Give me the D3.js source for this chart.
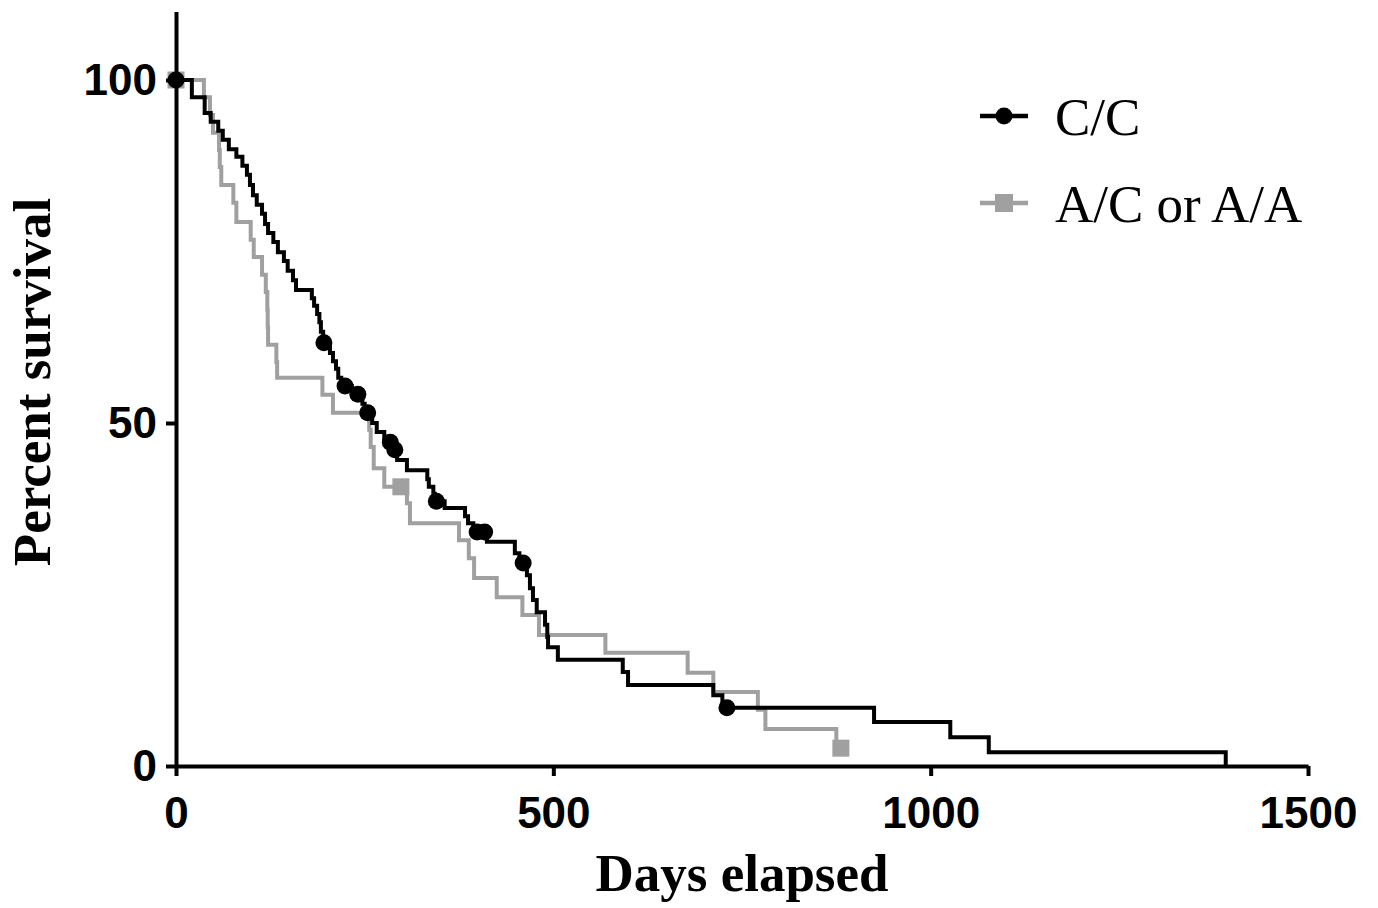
<!DOCTYPE html>
<html>
<head>
<meta charset="utf-8">
<script src="https://cdn.jsdelivr.net/npm/d3@7"></script>
<style>
  body { margin: 0; background: #fff; }
</style>
</head>
<body>
<div id="chart"></div>
<script>

// C/C group: day of each drop and survival (%) after it
const ccDays = [21, 38, 46, 56, 62, 70, 80, 88, 94, 98,
                102, 107, 114, 118, 122, 129, 135, 143, 148, 155,
                159, 180, 183, 187, 190, 192, 195, 204, 208, 212,
                215, 219, 233, 247, 250, 260, 266, 276, 288, 293,
                306, 333, 335, 341, 343, 356, 383, 387, 394, 412,
                449, 455, 465, 469, 473, 478, 489, 492, 493, 506,
                592, 599, 712, 724, 925, 1026, 1077, 1391];
const ccSurv = [97.5, 95.2, 93.9, 92.6, 91.3, 89.9, 88.8, 87.5, 86.2, 84.7,
                83.2, 81.8, 80.5, 79.0, 77.7, 76.4, 74.9, 73.6, 72.2, 70.8,
                69.4, 68.2, 67.1, 65.9, 64.7, 63.3, 61.7, 60.2, 59.0, 57.9,
                56.6, 55.4, 54.2, 52.8, 51.5, 50.0, 48.7, 47.2, 46.1, 44.6,
                43.1, 41.8, 40.7, 39.7, 38.6, 37.6, 36.4, 35.4, 34.1, 32.7,
                31.0, 29.6, 27.8, 25.9, 24.2, 22.4, 20.6, 18.8, 17.3, 15.5,
                13.7, 11.8, 10.3, 8.5, 6.4, 4.2, 2.0, 0];
const ccCensored = [0, 196, 224, 241, 254, 284, 290, 345, 399, 409, 460, 730];

// A/C or A/A group
const acDays = [37, 45, 49, 57, 58, 60, 76, 80, 99, 103,
                114, 119, 121, 121.5, 122, 133, 134, 194, 208, 256,
                258, 262, 276, 306, 310, 375, 388, 395, 425, 459,
                481, 569, 678, 712, 771, 781, 875];
const acSurv = [97.5, 94.9, 92.3, 89.8, 87.3, 84.7, 82.1, 79.3, 76.7, 74.2,
                71.6, 69.1, 66.5, 64.0, 61.4, 58.9, 56.6, 54.1, 51.5, 49.0,
                46.5, 43.4, 40.7, 38.3, 35.4, 32.9, 30.3, 27.4, 24.6, 22.0,
                19.1, 16.5, 13.6, 10.8, 8.2, 5.4, 2.6];
const acCensored = [0, 298, 881];

const xTicks = [0, 500, 1000, 1500];
const yTicks = [0, 50, 100];
const seriesNames = ['C/C', 'A/C or A/A'];

let dim = {'width': 1378, 'height': 908};

let svg = d3.select('#chart').append('svg')
    .attr('width', dim.width)
    .attr('height', dim.height);

let scaleX = d3.scaleLinear()
    .domain([0, 1500])
    .range([176, 1308]);

let scaleY = d3.scaleLinear()
    .domain([0, 110])
    .range([766, 766 - 110 * 6.86]);

const gray = '#a0a0a0';
const lw = 4;

// build step points: start at 100, then each drop
function steps(days, surv, end) {
    let pts = [[0, 100]];
    days.forEach((d, i) => pts.push([d, surv[i]]));
    if (end != null) pts.push([end, surv[surv.length - 1]]);
    return pts;
}
function survAt(days, surv, t) {
    let s = 100;
    days.forEach((d, i) => { if (d <= t) s = surv[i]; });
    return s;
}

let line = d3.line()
    .x(d => scaleX(d[0]))
    .y(d => scaleY(d[1]))
    .curve(d3.curveStepAfter);

// gray curve
svg.append('path')
    .attr('d', line(steps(acDays, acSurv, d3.max(acCensored))))
    .attr('fill', 'none')
    .attr('stroke', gray)
    .attr('stroke-width', lw);

svg.selectAll('rect.cens')
    .data(acCensored)
    .enter()
    .append('rect')
    .attr('class', 'cens')
    .attr('x', d => scaleX(d) - 8.5)
    .attr('y', d => scaleY(survAt(acDays, acSurv, d)) - 8.5)
    .attr('width', 17)
    .attr('height', 17)
    .attr('fill', gray);

// black curve
svg.append('path')
    .attr('d', line(steps(ccDays, ccSurv)))
    .attr('fill', 'none')
    .attr('stroke', '#000')
    .attr('stroke-width', lw);

svg.selectAll('circle.cens')
    .data(ccCensored)
    .enter()
    .append('circle')
    .attr('class', 'cens')
    .attr('cx', d => scaleX(d))
    .attr('cy', d => scaleY(survAt(ccDays, ccSurv, d)))
    .attr('r', 8.5)
    .attr('fill', '#000');

// axes
let axisX = d3.axisBottom(scaleX).tickValues(xTicks).tickFormat(d3.format('d'))
    .tickSize(10).tickSizeOuter(0).tickPadding(21);
let axisY = d3.axisLeft(scaleY).tickValues(yTicks).tickFormat(d3.format('d'))
    .tickSize(10).tickSizeOuter(0).tickPadding(9);

let gx = svg.append('g')
    .attr('transform', 'translate(0,766)')
    .call(axisX);
let gy = svg.append('g')
    .attr('transform', 'translate(176,0)')
    .call(axisY);

[gx, gy].forEach(g => {
    g.selectAll('path, line').attr('stroke', '#000').attr('stroke-width', lw);
    g.selectAll('text')
        .attr('fill', '#000')
        .style('font-family', '"Liberation Sans", Arial, sans-serif')
        .style('font-weight', 'bold')
        .style('font-size', '44px');
});

// axis titles
svg.append('text')
    .attr('x', 742)
    .attr('y', 891)
    .attr('text-anchor', 'middle')
    .style('font-family', '"Liberation Serif", "Times New Roman", serif')
    .style('font-weight', 'bold')
    .style('font-size', '53px')
    .text('Days elapsed');

svg.append('text')
    .attr('transform', 'translate(50,382) rotate(-90)')
    .attr('text-anchor', 'middle')
    .style('font-family', '"Liberation Serif", "Times New Roman", serif')
    .style('font-weight', 'bold')
    .style('font-size', '53px')
    .text('Percent survival');

// legend
let legend = svg.append('g');
let legY = [116, 203];

legend.selectAll('line')
    .data(seriesNames)
    .enter()
    .append('line')
    .attr('x1', 980).attr('x2', 1028)
    .attr('y1', (d, i) => legY[i]).attr('y2', (d, i) => legY[i])
    .attr('stroke', (d, i) => i === 0 ? '#000' : gray)
    .attr('stroke-width', 4.5);

legend.append('circle')
    .attr('cx', 1004).attr('cy', legY[0]).attr('r', 8.5).attr('fill', '#000');
legend.append('rect')
    .attr('x', 1004 - 9).attr('y', legY[1] - 9).attr('width', 18).attr('height', 18).attr('fill', gray);

legend.selectAll('text')
    .data(seriesNames)
    .enter()
    .append('text')
    .attr('x', 1055)
    .attr('y', (d, i) => legY[i] + 19)
    .style('font-family', '"Liberation Serif", "Times New Roman", serif')
    .style('font-size', '53px')
    .text(d => d);

</script>
</body>
</html>
